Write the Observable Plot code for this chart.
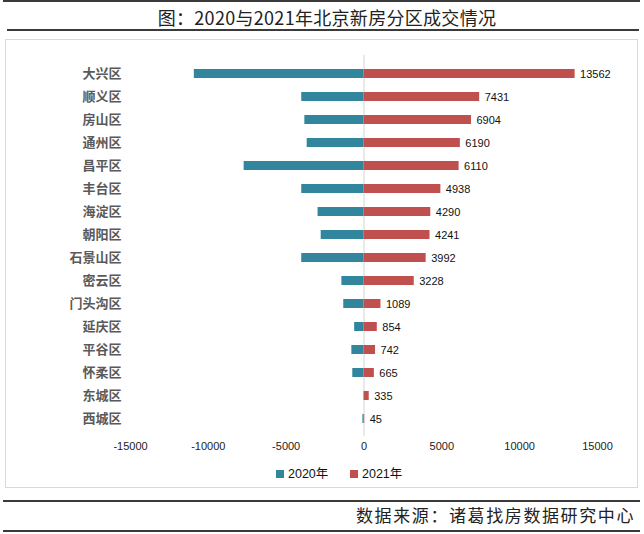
<!DOCTYPE html>
<html>
<head>
<meta charset="utf-8">
<script src="https://cdn.jsdelivr.net/npm/d3@7"></script>
<script src="https://cdn.jsdelivr.net/npm/@observablehq/plot@0.6"></script>
<style>
  html, body { margin: 0; padding: 0; background: #fff; }
  body { width: 644px; height: 534px; position: relative; overflow: hidden; font-family: "Noto Sans CJK SC", "Noto Sans", sans-serif; }
  .hline { position: absolute; left: 3px; width: 637px; height: 2px; background: #3a3a3a; }
  #title { position: absolute; left: 0; width: 654px; top: 4px; text-align: center; font-size: 18px; line-height: 26px; color: #222; letter-spacing: 0.3px; }
  #box { position: absolute; left: 5px; top: 39px; width: 631px; height: 447px; border: 1px solid #d9d9d9; box-sizing: content-box; }
  #chart { position: absolute; left: 5px; top: 39px; }
  #legend { position: absolute; top: 465px; left: 0; font-family: "Liberation Sans", "Noto Sans CJK SC", sans-serif; font-size: 12.5px; color: #111; }
  .li { position: absolute; white-space: nowrap; line-height: 18px; }
  .sw { display: inline-block; width: 8px; height: 8px; margin-right: 4px; vertical-align: 0px; }
  #caption { position: absolute; right: 9px; top: 504px; font-size: 17px; line-height: 22px; color: #222; letter-spacing: 1.6px; }
  svg g[aria-label="y-axis tick label"] { fill: #595959; font-size: 13px; font-weight: bold; font-family: "Noto Sans CJK SC", sans-serif; }
  svg g[aria-label="x-axis tick label"] { fill: #222; font-size: 11px; font-family: "Liberation Sans", sans-serif; }
</style>
</head>
<body>
<div class="hline" style="top:0px"></div>
<div id="title">图：2020与2021年北京新房分区成交情况</div>
<div class="hline" style="top:29px; left:7px; width:632px"></div>
<div id="box"></div>
<div id="chart"></div>
<div id="legend"></div>
<div class="hline" style="top:500px"></div>
<div id="caption">数据来源：诸葛找房数据研究中心</div>
<div class="hline" style="top:530px"></div>
<script>
const districts = ["大兴区","顺义区","房山区","通州区","昌平区","丰台区","海淀区","朝阳区","石景山区","密云区","门头沟区","延庆区","平谷区","怀柔区","东城区","西城区"];
const values2020 = [10900, 4000, 3800, 3650, 7700, 4000, 2950, 2750, 4000, 1420, 1300, 600, 780, 720, 0, 70];
const values2021 = [13562, 7431, 6904, 6190, 6110, 4938, 4290, 4241, 3992, 3228, 1089, 854, 742, 665, 335, 45];
const xTicks = [-15000, -10000, -5000, 0, 5000, 10000, 15000];
const seriesNames = ["2020年", "2021年"];
const seriesColors = ["#31859C", "#C0504D"];

const rows2020 = districts.map((d, i) => ({district: d, value: values2020[i]}));
const rows2021 = districts.map((d, i) => ({district: d, value: values2021[i]}));

const chart = Plot.plot({
  width: 632,
  height: 430,
  marginLeft: 125,
  marginRight: 40,
  marginTop: 16,
  marginBottom: 33,
  style: { fontFamily: "Liberation Sans, sans-serif", background: "transparent", overflow: "visible" },
  x: { domain: [-15000, 15000] },
  y: { domain: districts, paddingInner: 0.61, paddingOuter: 0.5 },
  marks: [
    Plot.ruleX([0], { stroke: "#d4d4d4", strokeWidth: 1 }),
    Plot.barX(rows2020, { y: "district", x1: 0, x2: d => -d.value, fill: seriesColors[0] }),
    Plot.barX(rows2021, { y: "district", x1: 0, x2: "value", fill: seriesColors[1] }),
    Plot.text(rows2021, { y: "district", x: "value", text: d => String(d.value), textAnchor: "start", dx: 5, fontSize: 11, fill: "#111", fontFamily: "Liberation Sans, sans-serif" }),
    Plot.axisX({ ticks: xTicks, tickSize: 0, tickPadding: 6, tickFormat: d => String(d), label: null }),
    Plot.axisY({ tickSize: 0, tickPadding: 9, label: null })
  ]
});
document.getElementById("chart").appendChild(chart);

const legend = document.getElementById("legend");
const legendX = [276, 350];
seriesNames.forEach((name, i) => {
  const el = document.createElement("div");
  el.className = "li";
  el.style.left = legendX[i] + "px";
  el.innerHTML = `<span class="sw" style="background:${seriesColors[i]}"></span>${name}`;
  legend.appendChild(el);
});
</script>
</body>
</html>
